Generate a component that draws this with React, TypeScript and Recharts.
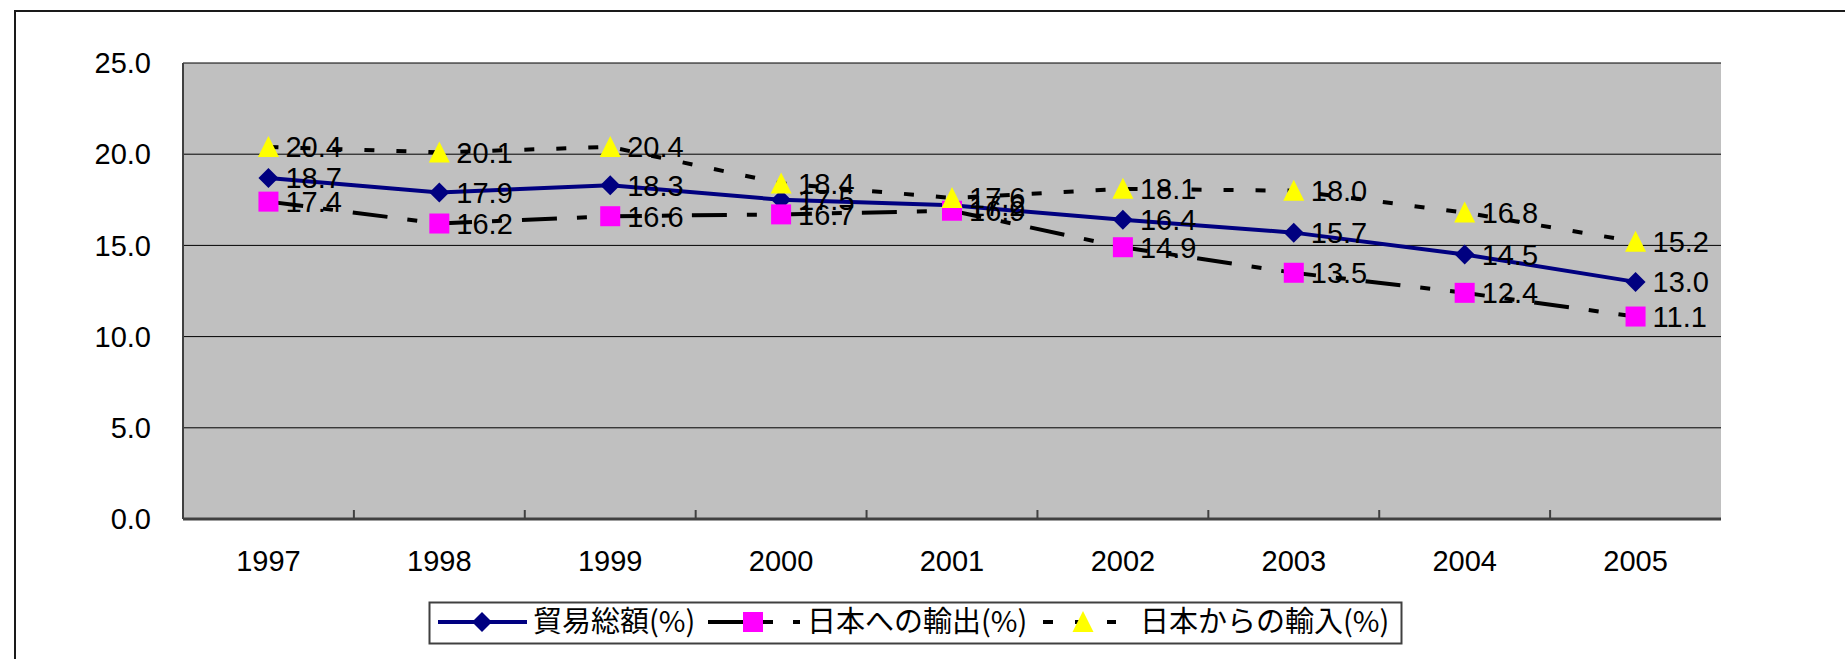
import { LineChart, Line, XAxis, YAxis, CartesianGrid, LabelList } from 'recharts'

const years = ['1997', '1998', '1999', '2000', '2001', '2002', '2003', '2004', '2005']
const tradeTotal = [18.7, 17.9, 18.3, 17.5, 17.2, 16.4, 15.7, 14.5, 13.0]
const exportsToJapan = [17.4, 16.2, 16.6, 16.7, 16.9, 14.9, 13.5, 12.4, 11.1]
const importsFromJapan = [20.4, 20.1, 20.4, 18.4, 17.6, 18.1, 18.0, 16.8, 15.2]
const yTicks = [0, 5, 10, 15, 20, 25]

const seriesNames = ['貿易総額(%)', '日本への輸出(%)', '日本からの輸入(%)']

const data = years.map((year, i) => ({
  year,
  total: tradeTotal[i],
  exp: exportsToJapan[i],
  imp: importsFromJapan[i],
}))

const W = 1845
const H = 659
const PLOT_LEFT = 183
const PLOT_RIGHT = 1721
const PLOT_TOP = 63
const PLOT_BOTTOM = 519
const BAND = (PLOT_RIGHT - PLOT_LEFT) / years.length

const NUM_FONT = '"Liberation Sans", Arial, sans-serif'
const JP_FONT = '"Noto Sans CJK JP", "Noto Sans CJK SC", sans-serif'

const NAVY = '#000080'
const PINK = '#FF00FF'
const YELLOW = '#FFFF00'
const EXPORT_DASH = '35 20 10 20'
const IMPORT_DASH = '10 22'

function Diamond({ cx, cy }: { cx: number; cy: number }) {
  return <polygon points={`${cx},${cy - 10} ${cx + 10},${cy} ${cx},${cy + 10} ${cx - 10},${cy}`} fill={NAVY} />
}

function Square({ cx, cy }: { cx: number; cy: number }) {
  return <rect x={cx - 10} y={cy - 10} width={20} height={20} fill={PINK} />
}

function Triangle({ cx, cy }: { cx: number; cy: number }) {
  return <polygon points={`${cx},${cy - 11} ${cx + 10.5},${cy + 10} ${cx - 10.5},${cy + 10}`} fill={YELLOW} />
}

const renderLabel = (p: any) => (
  <text
    key={`lbl-${p.index}`}
    x={Number(p.x) + 17}
    y={Number(p.y)}
    dy="0.36em"
    fontSize={29}
    fontFamily={NUM_FONT}
    fill="#000"
  >
    {Number(p.value).toFixed(1)}
  </text>
)

const XTick = (props: any) => {
  const { x, y, payload, index } = props
  return (
    <g>
      {index < years.length - 1 && (
        <line x1={x + BAND / 2} x2={x + BAND / 2} y1={PLOT_BOTTOM} y2={PLOT_BOTTOM - 9} stroke="#404040" strokeWidth={2} />
      )}
      <text x={x} y={y} dy="0.71em" textAnchor="middle" fontSize={29} fontFamily={NUM_FONT} fill="#000">
        {payload.value}
      </text>
    </g>
  )
}

function LegendBox() {
  const cy = 622
  return (
    <svg width={W} height={H} style={{ position: 'absolute', left: 0, top: 0, pointerEvents: 'none' }}>
      <rect x={429.5} y={602.5} width={972} height={41} fill="#fff" stroke="#404040" strokeWidth={2} />
      {/* 貿易総額 */}
      <line x1={438} x2={527} y1={cy} y2={cy} stroke={NAVY} strokeWidth={4} />
      <Diamond cx={482} cy={cy} />
      <text x={533} y={cy} dy="0.36em" fontSize={29} fontFamily={JP_FONT} fill="#000">{seriesNames[0]}</text>
      {/* 日本への輸出 */}
      <line x1={708} x2={800} y1={cy} y2={cy} stroke="#000" strokeWidth={4} strokeDasharray={EXPORT_DASH} />
      <Square cx={753} cy={cy} />
      <text x={807} y={cy} dy="0.36em" fontSize={29} fontFamily={JP_FONT} fill="#000">{seriesNames[1]}</text>
      {/* 日本からの輸入 */}
      <line x1={1043} x2={1116} y1={cy} y2={cy} stroke="#000" strokeWidth={4} strokeDasharray={IMPORT_DASH} />
      <Triangle cx={1083} cy={cy} />
      <text x={1140} y={cy} dy="0.36em" fontSize={29} fontFamily={JP_FONT} fill="#000">{seriesNames[2]}</text>
    </svg>
  )
}

export default function App() {
  return (
    <div style={{ position: 'absolute', left: 0, top: 0, width: W, height: H, overflow: 'hidden', background: '#fff' }}>
      <div
        style={{
          position: 'absolute',
          left: 14,
          top: 10,
          width: 2000,
          height: 1000,
          borderTop: '2px solid #1a1a1a',
          borderLeft: '2px solid #1a1a1a',
        }}
      />
      <div style={{ position: 'absolute', left: 0, top: 0 }}>
        <LineChart
          width={W}
          height={H}
          data={data}
          margin={{ top: PLOT_TOP, right: W - PLOT_RIGHT, bottom: H - PLOT_BOTTOM - 60, left: 0 }}
        >
          <CartesianGrid vertical={false} fill="#C0C0C0" stroke="#000" strokeWidth={1} />
          <XAxis
            dataKey="year"
            scale="band"
            height={60}
            tickLine={false}
            tickSize={0}
            tickMargin={31}
            tick={<XTick />}
            axisLine={{ stroke: '#404040', strokeWidth: 3 }}
            interval={0}
          />
          <XAxis
            xAxisId="top"
            dataKey="year"
            scale="band"
            orientation="top"
            height={0}
            tick={false}
            tickLine={false}
            axisLine={{ stroke: '#808080', strokeWidth: 3 }}
          />
          <YAxis
            width={PLOT_LEFT}
            domain={[0, 25]}
            ticks={yTicks}
            interval={0}
            tickLine={false}
            tickSize={0}
            tickMargin={32}
            tickFormatter={(v: number) => v.toFixed(1)}
            tick={{ fill: '#000', fontSize: 29, fontFamily: NUM_FONT }}
            axisLine={{ stroke: '#404040', strokeWidth: 2 }}
          />
          <YAxis
            yAxisId="right"
            orientation="right"
            width={0}
            domain={[0, 25]}
            tick={false}
            tickLine={false}
            axisLine={{ stroke: '#808080', strokeWidth: 3 }}
          />
          <Line
            dataKey="total"
            name={seriesNames[0]}
            type="linear"
            stroke={NAVY}
            strokeWidth={4}
            dot={(p: any) => <Diamond key={`d-${p.index}`} cx={p.cx} cy={p.cy} />}
            activeDot={false}
            isAnimationActive={false}
          />
          <Line
            dataKey="exp"
            name={seriesNames[1]}
            type="linear"
            stroke="#000"
            strokeWidth={4}
            strokeDasharray={EXPORT_DASH}
            dot={(p: any) => <Square key={`s-${p.index}`} cx={p.cx} cy={p.cy} />}
            activeDot={false}
            isAnimationActive={false}
          />
          <Line
            dataKey="imp"
            name={seriesNames[2]}
            type="linear"
            stroke="#000"
            strokeWidth={4}
            strokeDasharray={IMPORT_DASH}
            dot={(p: any) => <Triangle key={`t-${p.index}`} cx={p.cx} cy={p.cy} />}
            activeDot={false}
            isAnimationActive={false}
          />
          {/* data labels drawn on top of every series */}
          <Line dataKey="total" stroke="none" dot={false} activeDot={false} legendType="none" isAnimationActive={false}>
            <LabelList dataKey="total" content={renderLabel} />
          </Line>
          <Line dataKey="exp" stroke="none" dot={false} activeDot={false} legendType="none" isAnimationActive={false}>
            <LabelList dataKey="exp" content={renderLabel} />
          </Line>
          <Line dataKey="imp" stroke="none" dot={false} activeDot={false} legendType="none" isAnimationActive={false}>
            <LabelList dataKey="imp" content={renderLabel} />
          </Line>
        </LineChart>
      </div>
      <LegendBox />
    </div>
  )
}
